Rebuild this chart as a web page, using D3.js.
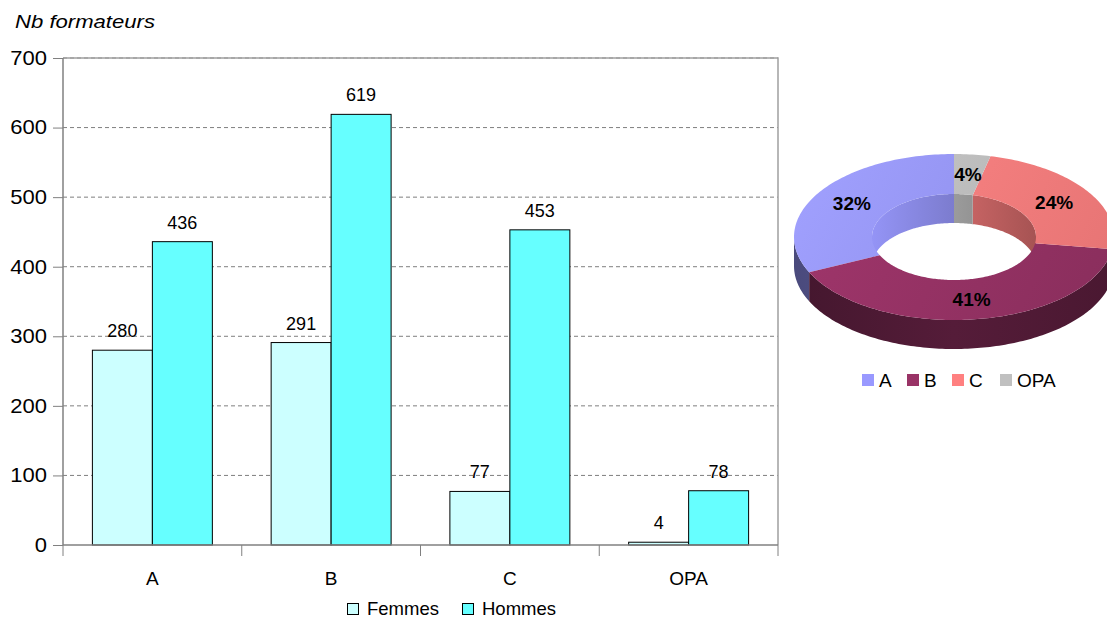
<!DOCTYPE html>
<html>
<head>
<meta charset="utf-8">
<script src="https://cdn.jsdelivr.net/npm/d3@7"></script>
<style>
  body { margin: 0; background: #fff; }
  text { font-family: "Liberation Sans", Arial, sans-serif; }
</style>
</head>
<body>
<svg id="chart" width="1107" height="619"></svg>
<script>
// données
const categories = ['A', 'B', 'C', 'OPA'];
const series = ['Femmes', 'Hommes'];
const femmes = [280, 291, 77, 4];
const hommes = [436, 619, 453, 78];
const yTicks = [0, 100, 200, 300, 400, 500, 600, 700];

const barColors = { Femmes: '#ccffff', Hommes: '#66ffff' };
const pieColors = { A: '#9999ff', B: '#993366', C: '#ff8080', OPA: '#c0c0c0' };
const pieSide = { A: '#55558f', B: '#4f1a35', C: '#8f4646', OPA: '#6a6a6a' };

const svg = d3.select('#chart');
const margin = { top: 58, right: 329, bottom: 74, left: 63 };
const W = 1107, H = 619;

// ---- histogramme ----
const x0 = d3.scaleBand(categories, [margin.left, W - margin.right]);
const x1 = d3.scaleBand(series, [0, x0.bandwidth()]).paddingOuter(0.49);
const y = d3.scaleLinear([0, 700], [H - margin.bottom, margin.top]);

const g = svg.append('g');

// grille
g.append('g')
  .selectAll('line')
  .data(yTicks.slice(1))
  .join('line')
    .attr('x1', margin.left).attr('x2', W - margin.right)
    .attr('y1', d => y(d)).attr('y2', d => y(d))
    .attr('stroke', '#7f7f7f')
    .attr('stroke-dasharray', '4,3');

// bordure droite / haut
g.append('path')
  .attr('d', `M${margin.left},${y(700)}H${W - margin.right}V${y(0)}`)
  .attr('fill', 'none')
  .attr('stroke', '#a0a0a0')
  .attr('stroke-width', 1.5);

const rows = categories.map((c, i) => ({ cat: c, Femmes: femmes[i], Hommes: hommes[i] }));

const groups = g.append('g')
  .selectAll('g')
  .data(rows)
  .join('g')
    .attr('transform', d => `translate(${x0(d.cat)},0)`);

groups.selectAll('rect')
  .data(d => series.map(s => ({ key: s, value: d[s] })))
  .join('rect')
    .attr('x', d => x1(d.key))
    .attr('width', x1.bandwidth())
    .attr('y', d => y(d.value))
    .attr('height', d => y(0) - y(d.value))
    .attr('fill', d => barColors[d.key])
    .attr('stroke', '#000')
    .attr('stroke-width', 1);

groups.selectAll('text')
  .data(d => series.map(s => ({ key: s, value: d[s] })))
  .join('text')
    .attr('x', d => x1(d.key) + x1.bandwidth() / 2)
    .attr('y', d => y(d.value) - 13)
    .attr('text-anchor', 'middle')
    .attr('font-size', 18)
    .text(d => d.value);

// axe Y
g.append('g')
  .attr('transform', `translate(${margin.left},0)`)
  .call(d3.axisLeft(y).tickValues(yTicks).tickSize(10).tickPadding(6))
  .call(a => a.select('.domain').attr('stroke', '#808080').attr('stroke-width', 1.5).attr('d', `M0,${y(700)}V${y(0)}`))
  .call(a => a.selectAll('.tick line').attr('stroke', '#808080'))
  .call(a => a.selectAll('.tick text')
    .attr('font-size', 20)
    .attr('fill', '#000')
    .attr('transform', 'scale(1.1,1)')
    .attr('x', -16 / 1.1)
    .style('font-family', '"Liberation Sans", Arial, sans-serif'));

// axe X
const xa = g.append('g').attr('transform', `translate(0,${y(0)})`);
xa.append('line')
  .attr('x1', margin.left).attr('x2', W - margin.right)
  .attr('stroke', '#808080').attr('stroke-width', 1.5);
xa.selectAll('.xt')
  .data(d3.range(categories.length + 1))
  .join('line')
    .attr('class', 'xt')
    .attr('x1', i => margin.left + i * x0.step())
    .attr('x2', i => margin.left + i * x0.step())
    .attr('y1', 0).attr('y2', 11)
    .attr('stroke', '#808080');
xa.selectAll('.xl')
  .data(categories)
  .join('text')
    .attr('class', 'xl')
    .attr('x', d => x0(d) + x0.bandwidth() / 2)
    .attr('y', 40)
    .attr('text-anchor', 'middle')
    .attr('font-size', 19)
    .text(d => d);

// titre
svg.append('text')
  .attr('x', 15).attr('y', 28)
  .attr('font-size', 18)
  .attr('font-style', 'italic')
  .attr('textLength', 140)
  .attr('lengthAdjust', 'spacingAndGlyphs')
  .text('Nb formateurs');

// légende barres
const lg = svg.append('g').attr('transform', 'translate(347,603)');
const lgx = [0, 115];
series.forEach((s, i) => {
  lg.append('rect')
    .attr('x', lgx[i] + 0.5).attr('y', 0.5)
    .attr('width', 11).attr('height', 11)
    .attr('fill', barColors[s]).attr('stroke', '#000');
  lg.append('text')
    .attr('x', lgx[i] + 20).attr('y', 12)
    .attr('font-size', 18.5)
    .text(s);
});

// ---- anneau 3D ----
const totals = categories.map((c, i) => ({ cat: c, value: femmes[i] + hommes[i] }));
const sum = d3.sum(totals, d => d.value);
const cx = 954, cy = 237, rx = 160, ry = 83, irx = 82, iry = 43, th = 29;

// sens anti-horaire depuis midi : A, B, C, OPA
const pie = d3.pie().sort(null).value(d => d.value)
  .startAngle(2 * Math.PI).endAngle(0);
const arcs = pie(totals).map(a => ({ ...a, a0: Math.min(a.startAngle, a.endAngle), a1: Math.max(a.startAngle, a.endAngle) }));

const pt = (t, rX, rY, dy = 0) => [cx + rX * Math.sin(t), cy - rY * Math.cos(t) + dy];

function arcPts(t0, t1, rX, rY, dy) {
  const n = Math.max(2, Math.ceil((t1 - t0) / 0.02));
  return d3.range(n + 1).map(k => pt(t0 + (t1 - t0) * k / n, rX, rY, dy));
}

function wallPath(t0, t1, rX, rY) {
  const top = arcPts(t0, t1, rX, rY, 0);
  const bot = arcPts(t0, t1, rX, rY, th).reverse();
  return 'M' + top.concat(bot).map(p => p.join(',')).join('L') + 'Z';
}

function topPath(t0, t1) {
  const o = arcPts(t0, t1, rx, ry, 0);
  const i = arcPts(t0, t1, irx, iry, 0).reverse();
  return 'M' + o.concat(i).map(p => p.join(',')).join('L') + 'Z';
}

const defs = svg.append('defs');
categories.forEach(c => {
  const base = d3.color(pieColors[c]);
  const gr = defs.append('linearGradient').attr('id', 'top-' + c)
    .attr('gradientUnits', 'userSpaceOnUse')
    .attr('x1', cx - rx).attr('y1', cy - ry).attr('x2', cx + rx).attr('y2', cy + ry);
  gr.append('stop').attr('offset', 0).attr('stop-color', base.brighter(0.15));
  gr.append('stop').attr('offset', 1).attr('stop-color', base.darker(0.3));
  const sd = d3.color(pieSide[c]);
  const gs = defs.append('linearGradient').attr('id', 'side-' + c)
    .attr('gradientUnits', 'userSpaceOnUse')
    .attr('x1', cx - rx).attr('y1', 0).attr('x2', cx + rx).attr('y2', 0);
  gs.append('stop').attr('offset', 0).attr('stop-color', sd.darker(0.4));
  gs.append('stop').attr('offset', 0.5).attr('stop-color', sd.brighter(0.2));
  gs.append('stop').attr('offset', 1).attr('stop-color', sd.darker(0.2));
  const gi = defs.append('linearGradient').attr('id', 'inner-' + c)
    .attr('gradientUnits', 'userSpaceOnUse')
    .attr('x1', cx - irx).attr('y1', 0).attr('x2', cx + irx).attr('y2', 0);
  gi.append('stop').attr('offset', 0).attr('stop-color', base.darker(0.1));
  gi.append('stop').attr('offset', 1).attr('stop-color', base.darker(1.2));
});

const pg = svg.append('g');

// parois internes (arrière : t dans [3π/2, 2π] ∪ [0, π/2])
arcs.forEach(a => {
  [[0, Math.PI / 2], [3 * Math.PI / 2, 2 * Math.PI]].forEach(([b0, b1]) => {
    const s0 = Math.max(a.a0, b0), s1 = Math.min(a.a1, b1);
    if (s1 > s0) pg.append('path').attr('d', wallPath(s0, s1, irx, iry)).attr('fill', `url(#inner-${a.data.cat})`);
  });
});

// parois externes (avant : t dans [π/2, 3π/2])
arcs.forEach(a => {
  const s0 = Math.max(a.a0, Math.PI / 2), s1 = Math.min(a.a1, 3 * Math.PI / 2);
  if (s1 > s0) pg.append('path').attr('d', wallPath(s0, s1, rx, ry)).attr('fill', `url(#side-${a.data.cat})`);
});

// dessus
arcs.forEach(a => {
  pg.append('path').attr('d', topPath(a.a0, a.a1)).attr('fill', `url(#top-${a.data.cat})`);
});

// étiquettes %
const lr = (rx + irx) / 2, lry = (ry + iry) / 2;
arcs.forEach(a => {
  const [lx, ly] = pt((a.a0 + a.a1) / 2, lr, lry);
  pg.append('text')
    .attr('x', lx).attr('y', ly + 7)
    .attr('text-anchor', 'middle')
    .attr('font-size', 19)
    .attr('font-weight', 'bold')
    .text(Math.round(a.data.value / sum * 100) + '%');
});

// légende anneau
const pl = svg.append('g').attr('transform', 'translate(862,374)');
const plx = [0, 45, 90, 138];
categories.forEach((c, i) => {
  pl.append('rect')
    .attr('x', plx[i]).attr('y', 0)
    .attr('width', 12).attr('height', 12)
    .attr('fill', pieColors[c]);
  pl.append('text')
    .attr('x', plx[i] + 17).attr('y', 13)
    .attr('font-size', 19)
    .text(c);
});
</script>
</body>
</html>
